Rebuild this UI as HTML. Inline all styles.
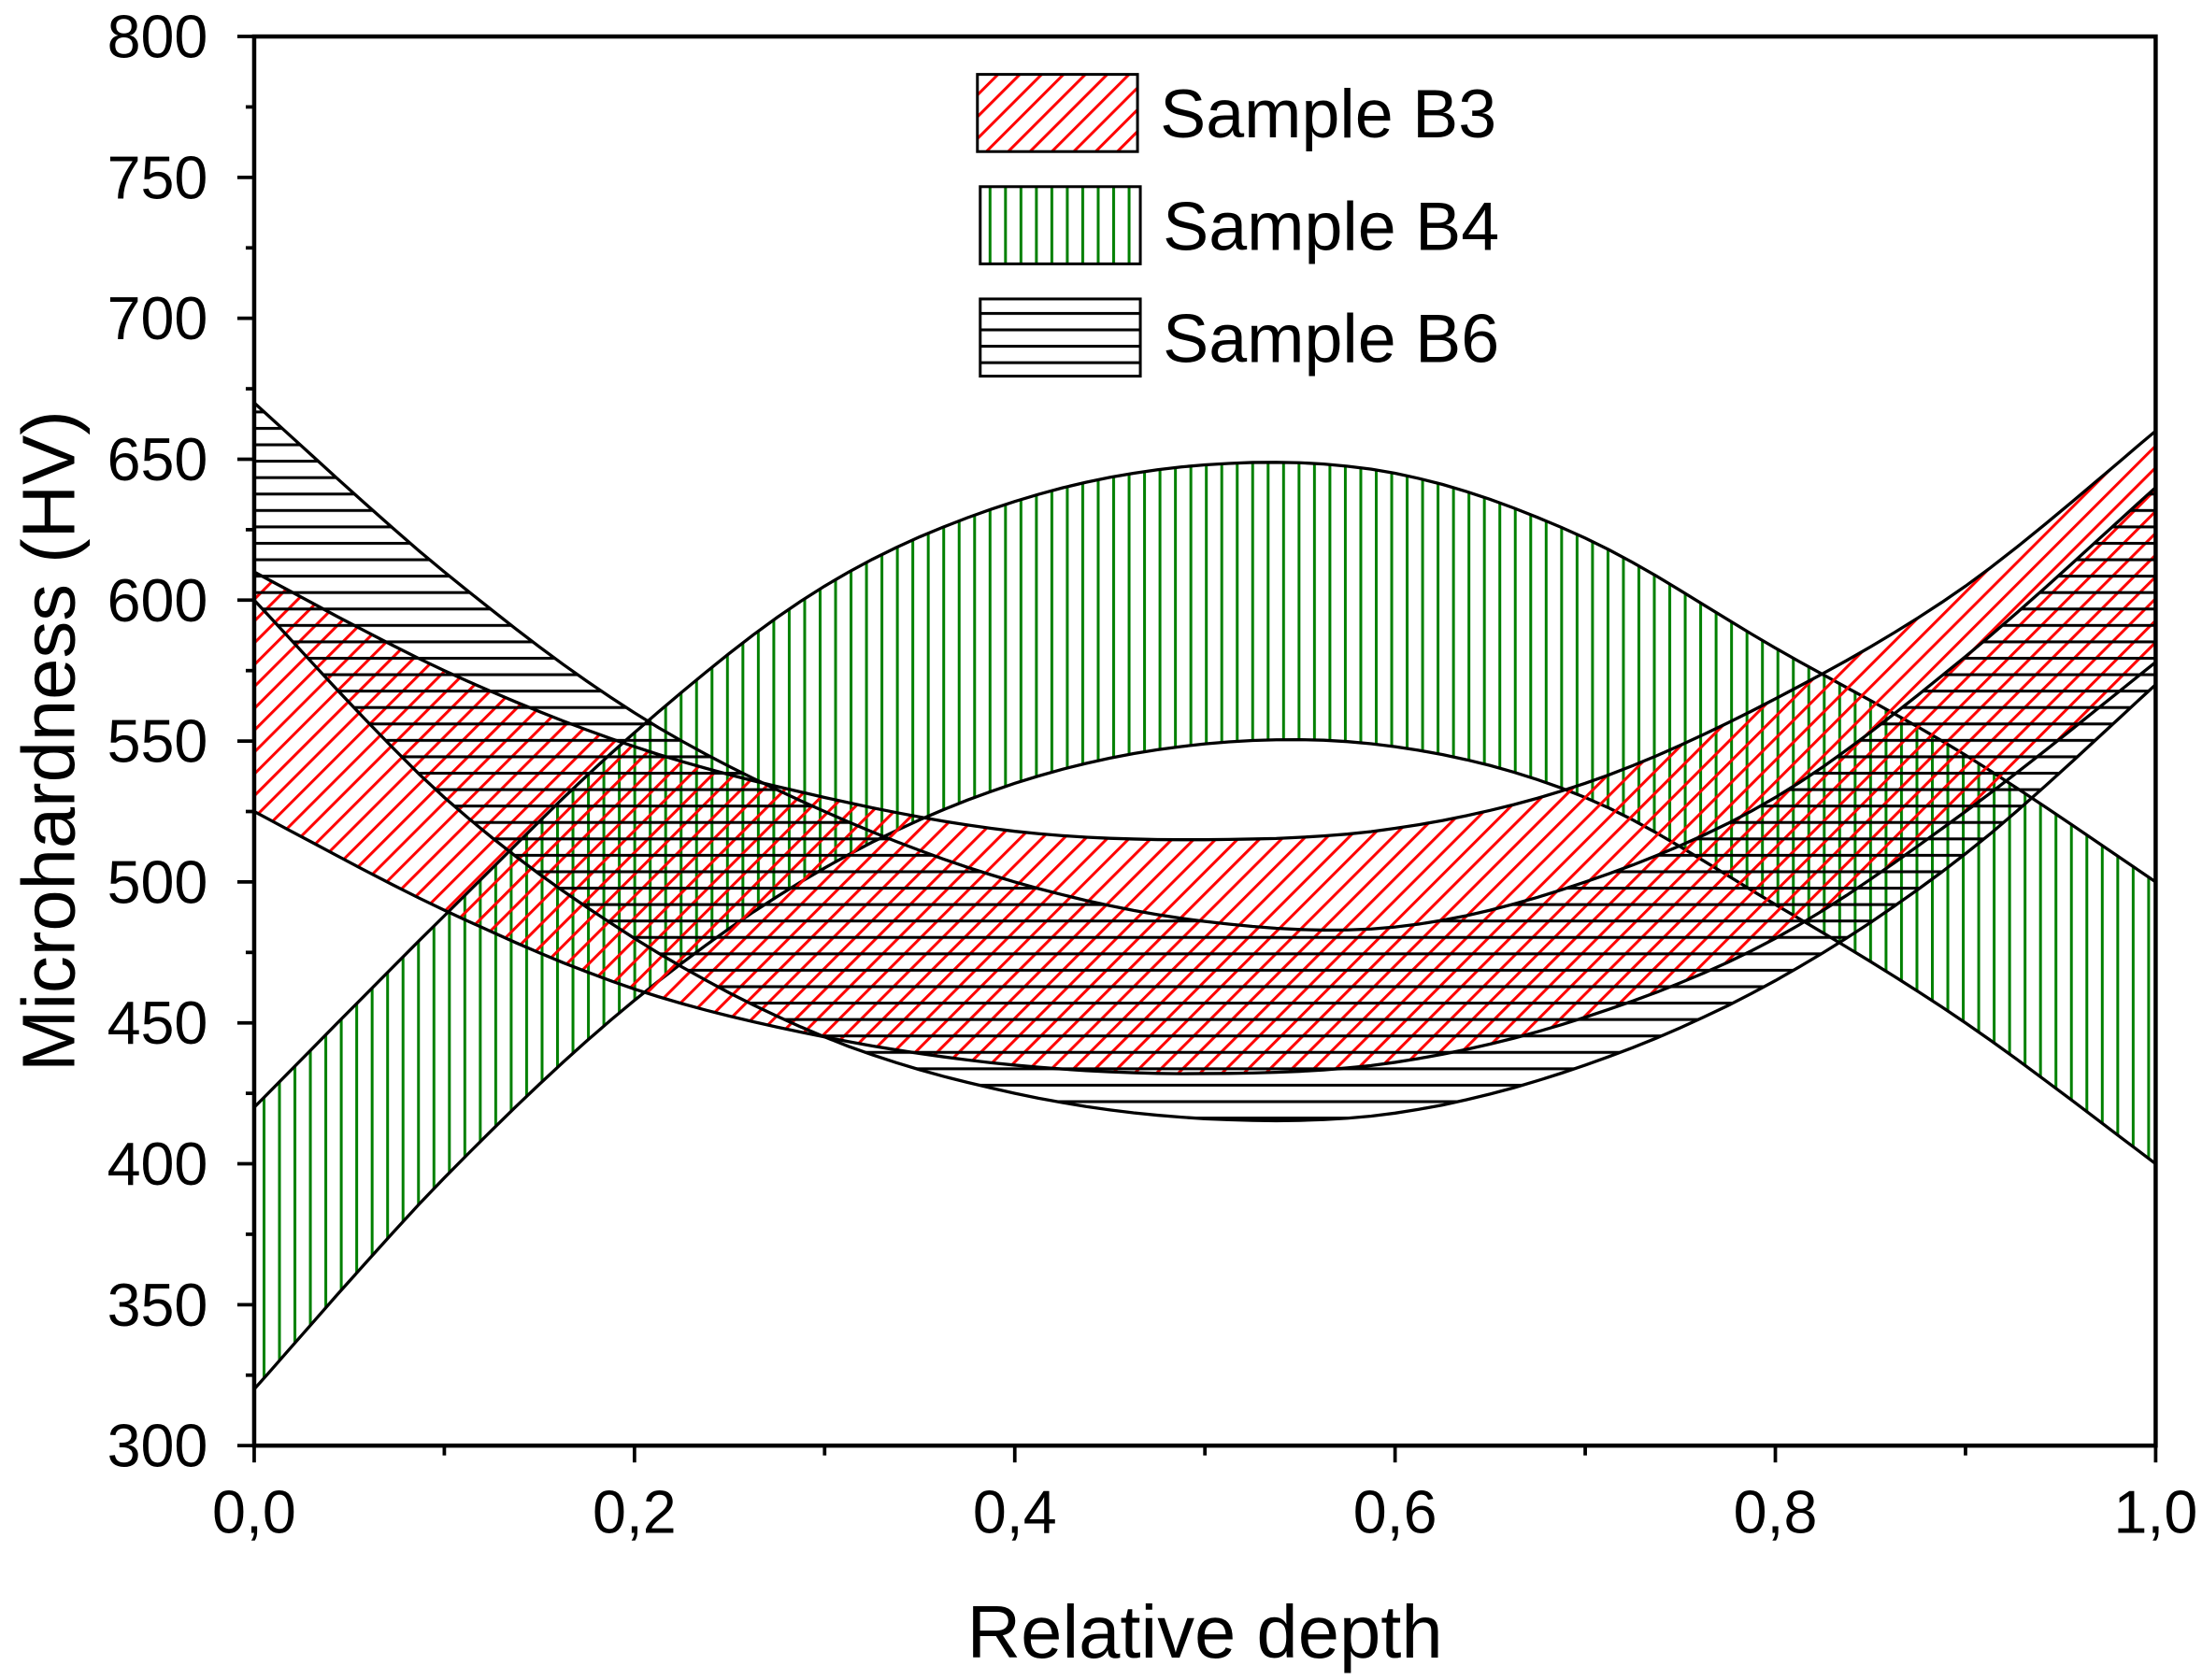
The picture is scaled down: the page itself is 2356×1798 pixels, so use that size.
<!DOCTYPE html>
<html><head><meta charset="utf-8"><style>
html,body{margin:0;padding:0;background:#fff;}
svg{display:block;}
text{font-family:"Liberation Sans",Arial,sans-serif;fill:#000;}
</style></head><body>
<svg id="chart" width="2356" height="1798" viewBox="0 0 1568 1197" preserveAspectRatio="none" xmlns="http://www.w3.org/2000/svg">
<defs>
<pattern id="hRed" patternUnits="userSpaceOnUse" width="11" height="11" patternTransform="rotate(45)"><line x1="1" y1="0" x2="1" y2="11" stroke="#ff0000" stroke-width="2"/></pattern>
<pattern id="hGreen" patternUnits="userSpaceOnUse" width="11" height="11"><line x1="1" y1="0" x2="1" y2="11" stroke="#008000" stroke-width="2"/></pattern>
<pattern id="hBlack" patternUnits="userSpaceOnUse" width="11.7" height="11.7"><line x1="0" y1="1" x2="11.7" y2="1" stroke="#000" stroke-width="2"/></pattern>
</defs>
<g id="bands"></g>
<rect x="181" y="26" width="1354" height="1004" fill="none" stroke="#000" stroke-width="3"/>
<g id="axes"></g>
<text transform="translate(53,528) rotate(-90)" text-anchor="middle" font-size="53">Microhardness (HV)</text>
<text x="858" y="1181" text-anchor="middle" font-size="53">Relative depth</text>
<g>
<rect x="696" y="53" width="114" height="55" fill="url(#hRed)" stroke="#000" stroke-width="2"/>
<text x="826" y="98" font-size="49">Sample B3</text>
<rect x="698" y="133" width="114" height="55" fill="url(#hGreen)" stroke="#000" stroke-width="2"/>
<text x="828" y="178" font-size="49">Sample B4</text>
<rect x="698" y="213" width="114" height="55" fill="url(#hBlack)" stroke="#000" stroke-width="2"/>
<text x="828" y="258" font-size="49">Sample B6</text>
</g>
</svg>
<script>
const depths = [0,0.1,0.2,0.3,0.4,0.5,0.6,0.7,0.8,0.9,1.0];
const b3Upper = [610,575,548,530,518,515,519,535,565,605,660];
const b3Lower = [525,490,462,445,435,432,436,452,480,525,578];
const b4Upper = [420,488,553,605,635,648,645,622,583,545,500];
const b4Lower = [320,395,458,505,535,549,548,530,492,450,400];
const b6Upper = [670,610,560,525,500,486,484,500,530,580,640];
const b6Lower = [600,530,480,445,425,416,418,435,465,510,570];
const yTicks = [300,350,400,450,500,550,600,650,700,750,800];
const xTicks = [0,0.2,0.4,0.6,0.8,1.0];
const xTickLabels = ["0,0","0,2","0,4","0,6","0,8","1,0"];

const NS = "http://www.w3.org/2000/svg";
function sx(v){ return 181 + v*1354; }
function sy(v){ return 1030 - (v-300)*1004/500; }
function mk(tag, attrs, parent){ const e=document.createElementNS(NS,tag); for(const k in attrs) e.setAttribute(k,attrs[k]); parent.appendChild(e); return e; }

function smooth(xs, ys){
  const pts=[]; const n=xs.length;
  for(let i=0;i<n-1;i++){
    const p0=[xs[Math.max(i-1,0)],ys[Math.max(i-1,0)]], p1=[xs[i],ys[i]], p2=[xs[i+1],ys[i+1]], p3=[xs[Math.min(i+2,n-1)],ys[Math.min(i+2,n-1)]];
    for(let s=0;s<8;s++){
      const t=s/8,t2=t*t,t3=t2*t;
      const f=(a,b,c,d)=>0.5*(2*b+(-a+c)*t+(2*a-5*b+4*c-d)*t2+(-a+3*b-3*c+d)*t3);
      pts.push([sx(f(p0[0],p1[0],p2[0],p3[0])), sy(f(p0[1],p1[1],p2[1],p3[1]))]);
    }
  }
  pts.push([sx(xs[n-1]),sy(ys[n-1])]);
  return pts;
}
const bands=document.getElementById('bands');
function band(up, lo, fill, name){
  const a=smooth(depths,up), b=smooth(depths,lo).reverse();
  const d="M"+a.concat(b).map(p=>p[0].toFixed(1)+","+p[1].toFixed(1)).join("L")+"Z";
  const el=mk('path',{d:d,fill:fill,stroke:'#000','stroke-width':2.2},bands);
  
  
}
band(b4Upper,b4Lower,'url(#hGreen)','band-sample-b4');
band(b3Upper,b3Lower,'url(#hRed)','band-sample-b3');
band(b6Upper,b6Lower,'url(#hBlack)','band-sample-b6');

const axes=document.getElementById('axes');
for(let v=300; v<=800; v+=25){
  const major = v%50===0;
  const t=mk('line',{x1:181,x2:major?169:175,y1:sy(v),y2:sy(v),stroke:'#000','stroke-width':2.5},axes);
  
  
}
yTicks.forEach(v=>{
  const t=mk('text',{x:148,y:sy(v)+15,'text-anchor':'end','font-size':43},axes);
  t.textContent=v;
  
  
});
for(let i=0;i<=10;i++){
  const v=i/10, major=i%2===0;
  const t=mk('line',{x1:sx(v),x2:sx(v),y1:1030,y2:major?1042:1037,stroke:'#000','stroke-width':2.5},axes);
  
  
}
xTicks.forEach((v,i)=>{
  const t=mk('text',{x:sx(v),y:1092,'text-anchor':'middle','font-size':43},axes);
  t.textContent=xTickLabels[i];
  
  
});
</script>
</body></html>
